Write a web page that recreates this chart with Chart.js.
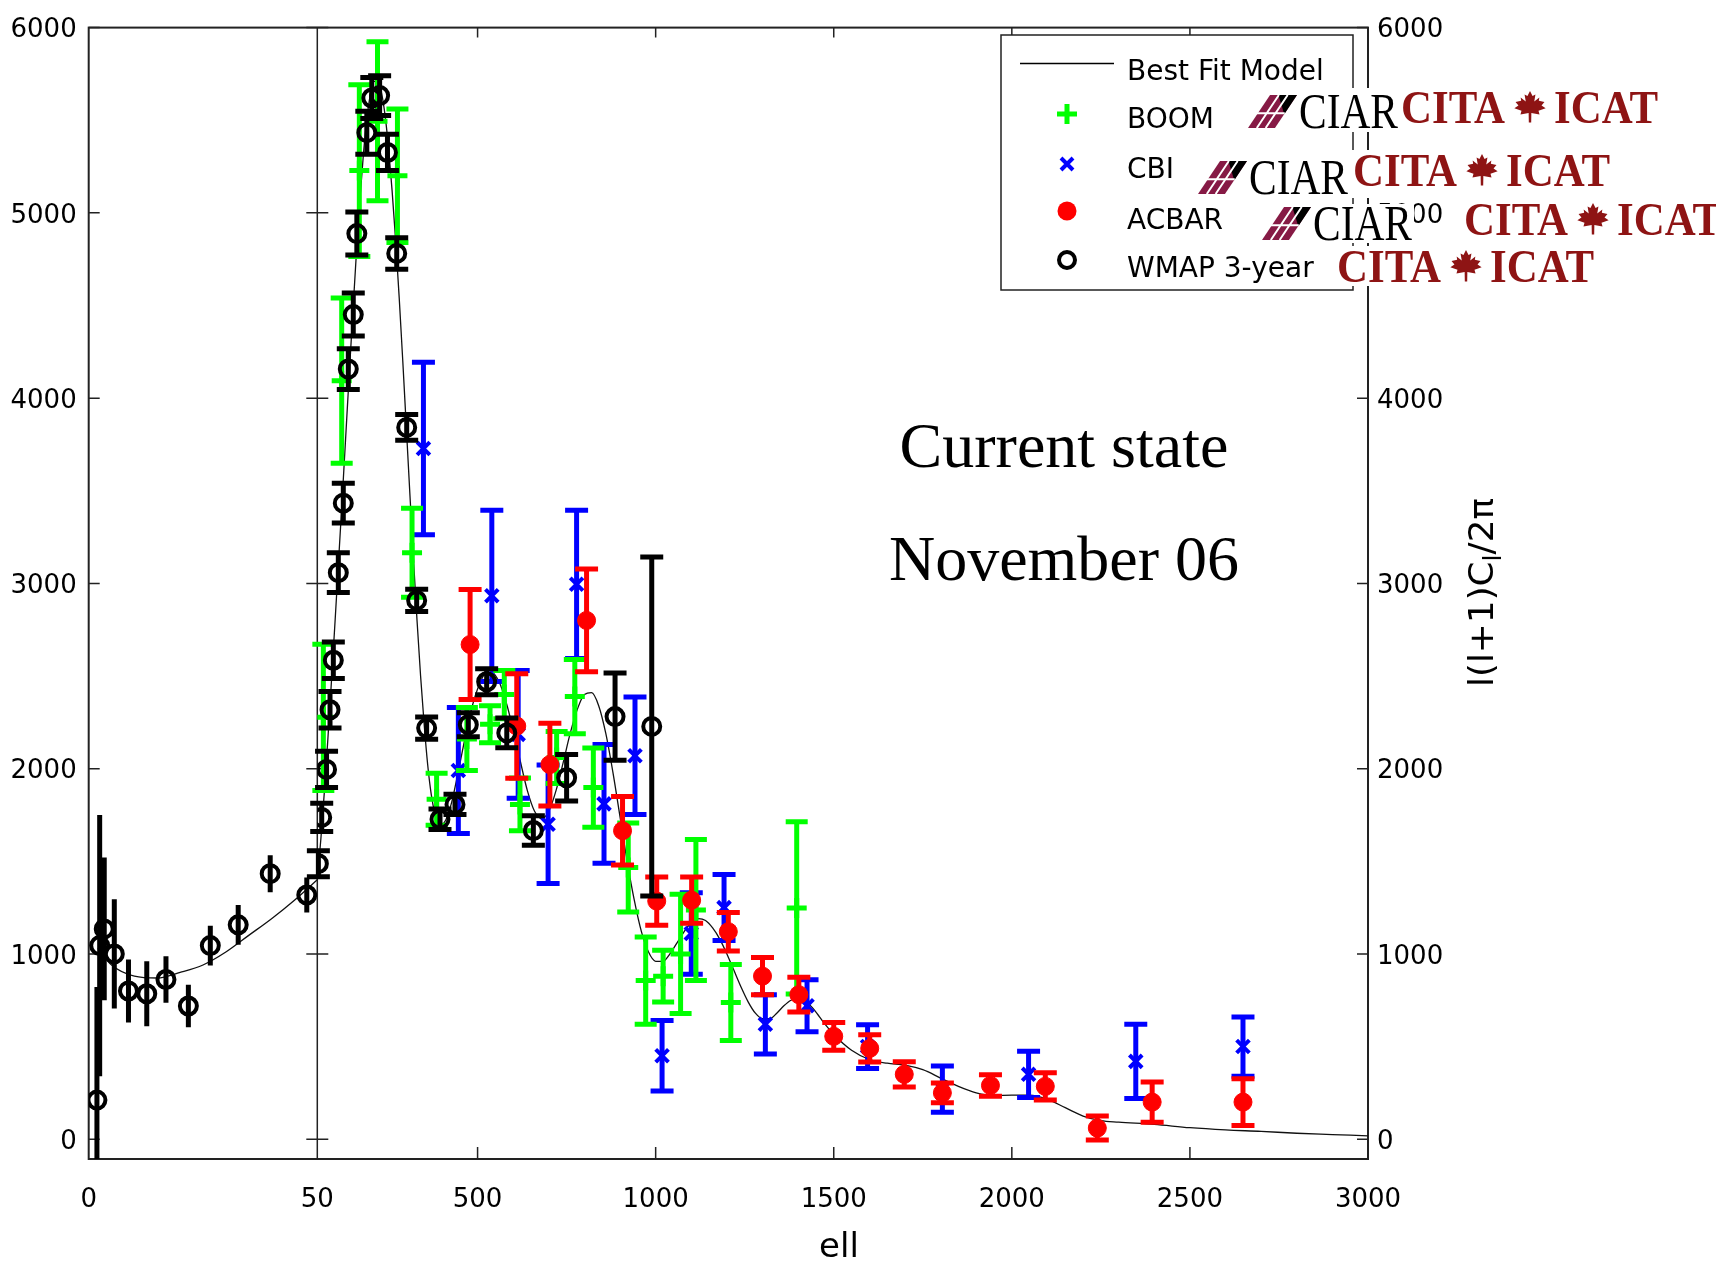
<!DOCTYPE html>
<html>
<head>
<meta charset="utf-8">
<script src="https://cdn.jsdelivr.net/npm/chart.js"></script>
<style>
  html, body { margin: 0; padding: 0; background: #fff; }
  #c { display: block; }
</style>
</head>
<body>
<canvas id="c" width="1716" height="1264"></canvas>
<script>
// tick labels
const yTicks = [0, 1000, 2000, 3000, 4000, 5000, 6000];
const xLowTicks = [0, 50];
const xHighTicks = [500, 1000, 1500, 2000, 2500, 3000];

// best fit model
const modelEll = [2, 5, 10, 15, 20, 25, 30, 35, 40, 45, 50,
  60, 70, 80, 90, 100, 110, 120, 130, 140, 150, 160, 170, 180, 190, 200, 210, 220, 230, 240, 250,
  260, 270, 280, 290, 300, 310, 320, 330, 340, 350, 360, 370, 380, 390, 400, 410, 420, 430, 440,
  460, 480, 500, 520, 540, 560, 580, 600, 620, 640, 660, 680, 700, 720, 740, 760, 780, 800, 820,
  840, 860, 880, 900, 920, 940, 960, 980, 1000, 1020, 1040, 1060, 1080, 1100, 1120, 1140, 1160,
  1180, 1200, 1220, 1240, 1260, 1280, 1300, 1320, 1340, 1360, 1380, 1400, 1420, 1440, 1460, 1480,
  1500, 1550, 1600, 1650, 1700, 1750, 1800, 1850, 1900, 1950, 2000, 2050, 2100, 2150, 2200, 2250,
  2300, 2400, 2500, 2600, 2700, 2800, 2900, 3000];
const modelVal = [1030, 940, 880, 870, 900, 940, 1010, 1100, 1190, 1290, 1400,
  1620, 1880, 2170, 2480, 2800, 3130, 3460, 3800, 4140, 4470, 4790, 5080, 5330, 5520, 5650, 5710, 5710, 5650, 5530, 5350,
  5120, 4850, 4540, 4200, 3840, 3480, 3130, 2800, 2500, 2240, 2020, 1860, 1760, 1710, 1700, 1720, 1770, 1840, 1930,
  2120, 2300, 2430, 2510, 2520, 2470, 2360, 2210, 2040, 1880, 1770, 1730, 1770, 1880, 2030, 2190, 2320, 2400, 2410,
  2340, 2190, 1980, 1740, 1500, 1290, 1120, 1010, 960, 960, 1000, 1060, 1120, 1170, 1190, 1180, 1140,
  1080, 1000, 910, 820, 740, 680, 650, 650, 680, 720, 750, 760, 745, 710, 660, 610,
  565, 480, 430, 410, 400, 375, 330, 285, 250, 235, 238, 238, 215, 170, 125, 100,
  92, 80, 62, 50, 42, 32, 25, 18];

// WMAP 3-year, low multipoles (left panel) and the rest
const wmapLowEll = [1.8, 2.4, 3.4, 5.6, 8.7, 12.7, 16.9, 21.8, 26.6, 32.7, 39.7, 47.7];
const wmapLowVal = [211, 1045, 1135, 1000, 800, 785, 862, 719, 1045, 1157, 1433, 1318];
const wmapLowErr = [610, 705, 385, 295, 170, 175, 125, 115, 107, 107, 100, 94];

const wmapEll = [53, 62.4, 76, 85.7, 95, 109, 123, 137, 151, 161, 189, 203, 225, 247, 273, 301, 329, 357,
  394.5, 436.6, 474, 525.5, 582, 656.6, 750, 886, 989];
const wmapVal = [1487, 1737, 1996, 2318, 2585, 3058, 3433, 4157, 4451, 4888, 5433, 5620, 5633, 5326, 4781, 3842, 2908, 2219,
  1727, 1807, 2237, 2469, 2193, 1666, 1951, 2281, 2228];
const wmapErr = [70, 76, 98, 98, 98, 107, 107, 110, 116, 116, 116, 110, 107, 98, 85, 70, 60, 60,
  55, 55, 65, 70, 80, 80, 125, 235, 915];

// BOOMERANG
const boomEll = [67, 118.5, 168, 219, 275, 316, 385, 470, 535, 575, 619, 722, 773, 825, 923, 972, 1021, 1070, 1113, 1211, 1396];
const boomVal = [2277, 4094, 5228, 5494, 5200, 3165, 1835, 2160, 2240, 2400, 1807, 2060, 2389, 1898, 1466, 856, 880, 1000, 1237, 738, 1248];
const boomErr = [395, 446, 463, 429, 360, 240, 140, 170, 100, 130, 142, 140, 200, 214, 240, 235, 140, 322, 380, 205, 465];

// CBI
const cbiEll = [348, 446, 540, 614, 698, 778, 855, 942, 1018, 1100, 1192, 1308, 1425, 1595, 1805, 2047, 2348, 2649];
const cbiVal = [3728, 1990, 2933, 2185, 1700, 2995, 1810, 2070, 450, 1110, 1250, 620, 720, 500, 270, 350, 420, 500];
const cbiErr = [465, 340, 462, 345, 320, 400, 320, 317, 190, 220, 178, 160, 140, 118, 125, 125, 200, 160];

// ACBAR
const acbarEll = [479, 610, 703, 806, 907, 1003, 1101, 1204, 1300, 1402, 1500, 1601, 1698, 1805, 1940, 2094, 2240, 2394, 2649];
const acbarVal = [2670, 2230, 2022, 2800, 1665, 1285, 1290, 1120, 880, 780, 555, 490, 350, 250, 290, 285, 60, 200, 200];
const acbarErr = [297, 282, 223, 277, 185, 130, 125, 104, 100, 94, 75, 73, 68, 53, 58, 73, 65, 108, 126];

const GREEN = '#00ff00', BLUE = '#0000ff', RED = '#ff0000', BLACK = '#000000';
const MAROON = '#8e1414';

function pts(ell, val, err) {
  return ell.map((x, i) => ({ x: x, y: val[i], e: err ? err[i] : 0 }));
}
const modelPts = pts(modelEll, modelVal);

// error bars drawn under each dataset's markers
const errorBars = {
  id: 'errorBars',
  beforeDatasetDraw(chart, args) {
    const ds = chart.data.datasets[args.index];
    if (!ds.errColor) return;
    const xs = chart.scales[args.meta.xAxisID];
    const ys = chart.scales[args.meta.yAxisID];
    const a = chart.chartArea;
    const ctx = chart.ctx;
    ctx.save();
    ctx.beginPath();
    ctx.rect(a.left, a.top, a.right - a.left, a.bottom - a.top);
    ctx.clip();
    ctx.strokeStyle = ds.errColor;
    ctx.lineWidth = 5;
    ctx.lineCap = 'butt';
    ds.data.forEach(p => {
      const x = xs.getPixelForValue(p.x);
      const y1 = ys.getPixelForValue(p.y + p.e);
      const y2 = ys.getPixelForValue(p.y - p.e);
      ctx.beginPath();
      ctx.moveTo(x, y1);
      ctx.lineTo(x, y2);
      if (ds.cap) {
        ctx.moveTo(x - ds.cap, y1); ctx.lineTo(x + ds.cap, y1);
        ctx.moveTo(x - ds.cap, y2); ctx.lineTo(x + ds.cap, y2);
      }
      ctx.stroke();
    });
    ctx.restore();
  }
};

// box, split line and inward tick marks
const frame = {
  id: 'frame',
  beforeDatasetsDraw(chart) {
    const ctx = chart.ctx;
    const a = chart.chartArea;
    const y = chart.scales.y;
    const xr = chart.scales.xr;
    const split = xr.left;
    ctx.save();
    ctx.strokeStyle = '#222';
    ctx.lineWidth = 2;
    ctx.strokeRect(a.left, a.top, a.right - a.left, a.bottom - a.top);
    ctx.lineWidth = 1.5;
    ctx.beginPath();
    ctx.moveTo(split, a.top); ctx.lineTo(split, a.bottom);
    yTicks.forEach(v => {
      const py = y.getPixelForValue(v);
      ctx.moveTo(a.left, py); ctx.lineTo(a.left + 11, py);
      ctx.moveTo(split - 11, py); ctx.lineTo(split + 11, py);
      ctx.moveTo(a.right - 11, py); ctx.lineTo(a.right, py);
    });
    xHighTicks.slice(0, -1).forEach(v => {
      const px = xr.getPixelForValue(v);
      ctx.moveTo(px, a.bottom); ctx.lineTo(px, a.bottom - 12);
      ctx.moveTo(px, a.top); ctx.lineTo(px, a.top + 10);
    });
    ctx.stroke();
    ctx.restore();
  }
};

function fitText(ctx, text, x, y, w, font, color) {
  ctx.save();
  ctx.font = font;
  ctx.fillStyle = color;
  ctx.textBaseline = 'alphabetic';
  ctx.textAlign = 'left';
  const m = ctx.measureText(text).width;
  ctx.translate(x, y);
  ctx.scale(w / m, 1);
  ctx.fillText(text, 0, 0);
  ctx.restore();
}

function leaf(ctx, cx, cy, s) {
  const p = [[0, -1], [0.15, -0.7], [0.32, -0.8], [0.25, -0.38], [0.55, -0.62], [0.52, -0.42], [0.85, -0.35],
    [0.68, -0.14], [0.92, 0.02], [0.5, 0.16], [0.56, 0.38], [0.08, 0.3], [0.07, 0.85], [-0.07, 0.85],
    [-0.08, 0.3], [-0.56, 0.38], [-0.5, 0.16], [-0.92, 0.02], [-0.68, -0.14], [-0.85, -0.35], [-0.52, -0.42],
    [-0.55, -0.62], [-0.25, -0.38], [-0.32, -0.8], [-0.15, -0.7]];
  ctx.save();
  ctx.fillStyle = MAROON;
  ctx.beginPath();
  p.forEach((q, i) => { const X = cx + q[0] * s, Y = cy + q[1] * s; i ? ctx.lineTo(X, Y) : ctx.moveTo(X, Y); });
  ctx.closePath();
  ctx.fill();
  ctx.restore();
}

function ciarMark(ctx, x, y, w, h) {
  ctx.save();
  ctx.fillStyle = '#861a45';
  ctx.beginPath();
  ctx.moveTo(x, y + h); ctx.lineTo(x + 0.45 * w, y); ctx.lineTo(x + w, y); ctx.lineTo(x + 0.55 * w, y + h);
  ctx.closePath(); ctx.fill();
  ctx.fillStyle = '#000';
  ctx.beginPath();
  ctx.moveTo(x + 0.62 * w, y); ctx.lineTo(x + w, y); ctx.lineTo(x + 0.74 * w, y + 0.58 * h);
  ctx.closePath(); ctx.fill();
  ctx.strokeStyle = '#fff';
  ctx.lineWidth = 2;
  ctx.beginPath();
  ctx.moveTo(x + 0.18 * w, y + h); ctx.lineTo(x + 0.63 * w, y);
  ctx.moveTo(x + 0.36 * w, y + h); ctx.lineTo(x + 0.81 * w, y);
  ctx.moveTo(x + 0.1 * w, y + 0.55 * h); ctx.lineTo(x + 0.75 * w, y + 0.55 * h);
  ctx.stroke();
  ctx.restore();
}

function citaRow(ctx, x0, base) {
  fitText(ctx, 'CITA', x0, base, 104, 'bold 47px "Liberation Serif"', MAROON);
  leaf(ctx, x0 + 129, base - 15, 17);
  fitText(ctx, 'ICAT', x0 + 153, base, 104, 'bold 47px "Liberation Serif"', MAROON);
}
function ciarRow(ctx, x0, base) {
  ciarMark(ctx, x0, base - 33, 49, 33);
  fitText(ctx, 'CIAR', x0 + 51, base, 99, '50px "Liberation Serif"', '#000');
}

const overlay = {
  id: 'overlay',
  afterDraw(chart) {
    const ctx = chart.ctx;
    ctx.save();
    // legend box
    ctx.fillStyle = '#fff';
    ctx.fillRect(1001, 35, 352, 255);
    ctx.strokeStyle = '#222';
    ctx.lineWidth = 1.5;
    ctx.strokeRect(1001, 35, 352, 255);
    ctx.strokeStyle = '#000';
    ctx.lineWidth = 1.3;
    ctx.beginPath(); ctx.moveTo(1020, 63.5); ctx.lineTo(1114, 63.5); ctx.stroke();
    ctx.font = '28px "DejaVu Sans"';
    ctx.fillStyle = '#000';
    ctx.textBaseline = 'middle';
    ctx.fillText('Best Fit Model', 1127, 73);
    ctx.fillText('BOOM', 1127, 121);
    ctx.fillText('CBI', 1127, 171);
    ctx.fillText('ACBAR', 1127, 222);
    ctx.fillText('WMAP 3-year', 1127, 270);
    // legend markers
    ctx.lineWidth = 5; ctx.strokeStyle = GREEN;
    ctx.beginPath(); ctx.moveTo(1057, 114); ctx.lineTo(1077, 114); ctx.moveTo(1067, 104); ctx.lineTo(1067, 124); ctx.stroke();
    ctx.lineWidth = 4; ctx.strokeStyle = BLUE;
    ctx.beginPath(); ctx.moveTo(1061, 158); ctx.lineTo(1073, 170); ctx.moveTo(1073, 158); ctx.lineTo(1061, 170); ctx.stroke();
    ctx.fillStyle = RED;
    ctx.beginPath(); ctx.arc(1067, 211, 9.5, 0, Math.PI * 2); ctx.fill();
    ctx.lineWidth = 4; ctx.strokeStyle = BLACK;
    ctx.beginPath(); ctx.arc(1067, 260, 8, 0, Math.PI * 2); ctx.stroke();

    // logo rows pasted over the legend
    ctx.fillStyle = '#fff';
    ctx.fillRect(1245, 88, 417, 44);
    ctx.fillRect(1195, 150, 417, 48);
    ctx.fillRect(1259, 204, 155, 39);
    ctx.fillRect(1460, 199, 256, 41);
    ctx.fillRect(1334, 246, 261, 40);
    ciarRow(ctx, 1248, 128); citaRow(ctx, 1401, 123);
    ciarRow(ctx, 1198, 194); citaRow(ctx, 1353, 186);
    ciarRow(ctx, 1262, 240); citaRow(ctx, 1464, 235);
    citaRow(ctx, 1337, 282);

    // annotation
    ctx.fillStyle = '#000';
    ctx.font = '64px "Liberation Serif"';
    ctx.textAlign = 'center';
    ctx.textBaseline = 'alphabetic';
    ctx.fillText('Current state', 1064, 467);
    ctx.fillText('November 06', 1064, 580);

    // x title
    ctx.font = '34px "DejaVu Sans"';
    ctx.textBaseline = 'middle';
    ctx.fillText('ell', 839, 1248);

    // right y title, reading upwards
    ctx.translate(1493, 687);
    ctx.rotate(-Math.PI / 2);
    ctx.textAlign = 'left';
    ctx.textBaseline = 'alphabetic';
    const f1 = '34px "DejaVu Sans"', f2 = '24px "DejaVu Sans"';
    ctx.font = f1; const w1 = ctx.measureText('l(l+1)C').width;
    ctx.font = f2; const w2 = ctx.measureText('l').width;
    ctx.font = f1; const w3 = ctx.measureText('/2\u03c0').width;
    const k = 189 / (w1 + w2 + w3);
    ctx.scale(k, 1);
    ctx.font = f1; ctx.fillText('l(l+1)C', 0, 0);
    ctx.font = f2; ctx.fillText('l', w1, 8);
    ctx.font = f1; ctx.fillText('/2\u03c0', w1 + w2, 0);
    ctx.restore();
  }
};

const tickFont = { family: 'DejaVu Sans', size: 26 };
const plain = v => String(v);

new Chart(document.getElementById('c'), {
  type: 'scatter',
  data: {
    datasets: [
      { label: 'WMAP 3-year', xAxisID: 'xr', yAxisID: 'y', data: pts(wmapEll, wmapVal, wmapErr),
        errColor: BLACK, cap: 11.5, pointStyle: 'circle', pointRadius: 8.5, pointBorderWidth: 4,
        pointBorderColor: BLACK, pointBackgroundColor: 'rgba(0,0,0,0)' },
      { label: 'WMAP low', xAxisID: 'xl', yAxisID: 'y', data: pts(wmapLowEll, wmapLowVal, wmapLowErr),
        errColor: BLACK, cap: 0, pointStyle: 'circle', pointRadius: 8.5, pointBorderWidth: 4,
        pointBorderColor: BLACK, pointBackgroundColor: 'rgba(0,0,0,0)' },
      { label: 'ACBAR', xAxisID: 'xr', yAxisID: 'y', data: pts(acbarEll, acbarVal, acbarErr),
        errColor: RED, cap: 11.5, pointStyle: 'circle', pointRadius: 9, pointBorderWidth: 1,
        pointBorderColor: RED, pointBackgroundColor: RED },
      { label: 'BOOM', xAxisID: 'xr', yAxisID: 'y', data: pts(boomEll, boomVal, boomErr),
        errColor: GREEN, cap: 11, pointStyle: 'cross', pointRadius: 10, pointBorderWidth: 5,
        pointBorderColor: GREEN, pointBackgroundColor: GREEN },
      { label: 'CBI', xAxisID: 'xr', yAxisID: 'y', data: pts(cbiEll, cbiVal, cbiErr),
        errColor: BLUE, cap: 11.5, pointStyle: 'crossRot', pointRadius: 9, pointBorderWidth: 4,
        pointBorderColor: BLUE, pointBackgroundColor: BLUE },
      { label: 'Best Fit Model', xAxisID: 'xr', yAxisID: 'y', data: modelPts.filter(p => p.x >= 50),
        showLine: true, pointRadius: 0, borderColor: '#111', borderWidth: 1.3, cubicInterpolationMode: 'monotone' },
      { label: 'Best Fit Model low', xAxisID: 'xl', yAxisID: 'y', data: modelPts.filter(p => p.x <= 50),
        showLine: true, pointRadius: 0, borderColor: '#111', borderWidth: 1.3, cubicInterpolationMode: 'monotone' }
    ]
  },
  options: {
    responsive: false,
    animation: false,
    devicePixelRatio: 1,
    layout: { padding: { top: 19, left: 0, right: 0, bottom: 0 } },
    plugins: { legend: { display: false }, tooltip: { enabled: false } },
    scales: {
      xl: {
        type: 'linear', position: 'bottom', stack: 'x', stackWeight: 228.6, min: 0, max: 50,
        afterBuildTicks: s => { s.ticks = xLowTicks.map(v => ({ value: v })); },
        afterFit: s => { s.height = 105; },
        grid: { display: false, drawTicks: false }, border: { display: false },
        ticks: { font: tickFont, color: '#000', padding: 26, maxRotation: 0, autoSkip: false, callback: plain }
      },
      xr: {
        type: 'linear', position: 'bottom', stack: 'x', stackWeight: 1050.7, min: 50, max: 3000,
        afterBuildTicks: s => { s.ticks = xHighTicks.map(v => ({ value: v })); },
        afterFit: s => { s.height = 105; },
        grid: { display: false, drawTicks: false }, border: { display: false },
        ticks: { font: tickFont, color: '#000', padding: 26, maxRotation: 0, autoSkip: false, callback: plain }
      },
      y: {
        type: 'linear', position: 'left', min: -107, max: 6000,
        afterBuildTicks: s => { s.ticks = yTicks.map(v => ({ value: v })); },
        afterFit: s => { s.width = 88.7; },
        grid: { display: false, drawTicks: false }, border: { display: false },
        ticks: { font: tickFont, color: '#000', padding: 12, labelOffset: 3, callback: plain }
      },
      y2: {
        type: 'linear', position: 'right', min: -107, max: 6000,
        afterBuildTicks: s => { s.ticks = yTicks.map(v => ({ value: v })); },
        afterFit: s => { s.width = 348; },
        grid: { display: false, drawTicks: false }, border: { display: false },
        ticks: { font: tickFont, color: '#000', padding: 9, labelOffset: 3, callback: plain }
      }
    }
  },
  plugins: [frame, errorBars, overlay]
});
</script>
</body>
</html>
